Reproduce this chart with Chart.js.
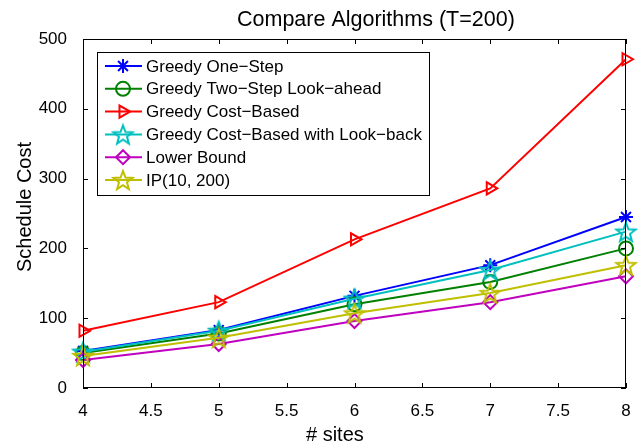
<!DOCTYPE html>
<html>
<head>
<meta charset="utf-8">
<script src="https://cdn.jsdelivr.net/npm/chart.js@4/dist/chart.umd.min.js"></script>
<style>
  html, body { margin: 0; padding: 0; background: #fff; }
  #wrap { width: 640px; height: 448px; }
</style>
</head>
<body>
<div id="wrap"><canvas id="c" width="640" height="448"></canvas></div>
<script>
// ── DATA ──────────────────────────────────────────────────────────────────────
const sites      = [4, 5, 6, 7, 8];
const oneStep    = [53, 83, 132, 176, 245];
const twoStep    = [50, 78, 120, 152, 200];
const costBased  = [82, 123, 213, 286, 471];
const lookBack   = [52, 82, 128, 169, 224];
const lowerBound = [40, 63, 96, 123, 160];
const ipBound    = [46, 72, 107, 136, 176];

const xTicks = [4, 4.5, 5, 5.5, 6, 6.5, 7, 7.5, 8];
const yTicks = [0, 100, 200, 300, 400, 500];

const FONT = "'Liberation Sans', Arial, Helvetica, sans-serif";

// pentagram marker (MATLAB 'p'), drawn once to a small canvas
function pentagram(color) {
  const s = 24, c = document.createElement('canvas');
  c.width = s; c.height = s;
  const g = c.getContext('2d'), R = 10, r = 4.2, cx = s / 2, cy = s / 2 + 1;
  g.beginPath();
  for (let i = 0; i < 10; i++) {
    const a = -Math.PI / 2 + i * Math.PI / 5, rr = i % 2 ? r : R;
    g.lineTo(cx + rr * Math.cos(a), cy + rr * Math.sin(a));
  }
  g.closePath();
  g.strokeStyle = color; g.lineWidth = 2; g.lineJoin = 'miter';
  g.stroke();
  return c;
}

const series = [
  { label: 'Greedy One\u2212Step',                      data: oneStep,    color: '#0000ff', style: 'star',     rot: 0 },
  { label: 'Greedy Two\u2212Step Look\u2212ahead',        data: twoStep,    color: '#008000', style: 'circle',   rot: 0 },
  { label: 'Greedy Cost\u2212Based',                     data: costBased,  color: '#ff0000', style: 'triangle', rot: 90 },
  { label: 'Greedy Cost\u2212Based with Look\u2212back',  data: lookBack,   color: '#00bfbf', style: pentagram('#00bfbf'), rot: 0 },
  { label: 'Lower Bound',                               data: lowerBound, color: '#bf00bf', style: 'rectRot',  rot: 0 },
  { label: 'IP(10, 200)',                               data: ipBound,    color: '#bfbf00', style: pentagram('#bfbf00'), rot: 0 },
];

const datasets = series.map((s, i) => ({
  label: s.label,
  data: s.data.map((v, k) => ({ x: sites[k], y: v })),
  borderColor: s.color,
  backgroundColor: 'rgba(0,0,0,0)',
  borderWidth: 2,
  pointStyle: s.style,
  pointRotation: s.rot,
  pointRadius: 7,
  pointBorderWidth: 2,
  pointBorderColor: s.color,
  pointBackgroundColor: 'rgba(0,0,0,0)',
  tension: 0,
  clip: false,
  order: series.length - i,   // later series on top, like MATLAB
}));

// ── FRAME, INWARD TICKS, TITLES, LEGEND ───────────────────────────────────────
const decor = {
  id: 'decor',
  afterDraw(chart) {
    const { ctx, chartArea: { left, right, top, bottom }, scales: { x, y } } = chart;
    ctx.save();
    ctx.strokeStyle = '#000'; ctx.lineWidth = 1;
    ctx.strokeRect(left + 0.5, top + 0.5, right - left - 1, bottom - top - 1);
    ctx.beginPath();
    xTicks.forEach(t => {
      const px = Math.round(x.getPixelForValue(t)) + 0.5;
      ctx.moveTo(px, bottom); ctx.lineTo(px, bottom - 5);
      ctx.moveTo(px, top);    ctx.lineTo(px, top + 5);
    });
    yTicks.forEach(t => {
      const py = Math.round(y.getPixelForValue(t)) + 0.5;
      ctx.moveTo(left, py);  ctx.lineTo(left + 5, py);
      ctx.moveTo(right, py); ctx.lineTo(right - 5, py);
    });
    ctx.stroke();

    // titles (the original sits a little off the axes centre)
    ctx.fillStyle = '#000';
    ctx.textAlign = 'left'; ctx.textBaseline = 'middle';
    ctx.font = `21.5px ${FONT}`;
    ctx.fillText('Compare Algorithms (T=200)', 237, 20);
    ctx.font = `20px ${FONT}`;
    ctx.fillText('# sites', 306, 435);
    ctx.save();
    ctx.textAlign = 'center';
    ctx.translate(25, 207);
    ctx.rotate(-Math.PI / 2);
    ctx.fillText('Schedule Cost', 0, 0);
    ctx.restore();

    // legend box
    const lx = 97, ly = 52, lw = 332, lh = 143, rowH = 22.8;
    ctx.fillStyle = '#fff';
    ctx.fillRect(lx, ly, lw, lh);
    ctx.strokeStyle = '#000'; ctx.lineWidth = 1;
    ctx.strokeRect(lx + 0.5, ly + 0.5, lw, lh);
    ctx.font = `17px ${FONT}`;
    ctx.textAlign = 'left';
    series.forEach((s, i) => {
      const ry = ly + 14 + i * rowH;
      ctx.strokeStyle = s.color; ctx.lineWidth = 2;
      ctx.beginPath(); ctx.moveTo(105, ry); ctx.lineTo(142, ry); ctx.stroke();
      ctx.fillStyle = 'rgba(0,0,0,0)';
      Chart.helpers.drawPoint(ctx, {
        pointStyle: s.style, rotation: s.rot, radius: 7, borderWidth: 2
      }, 123, ry);
      ctx.fillStyle = '#000';
      ctx.fillText(s.label, 146, ry + 1);
    });
    ctx.restore();
  }
};

new Chart(document.getElementById('c'), {
  type: 'line',
  data: { datasets },
  options: {
    responsive: false,
    animation: false,
    layout: { padding: { top: 39, right: 14, left: 0, bottom: 0 } },
    plugins: { legend: { display: false }, title: { display: false }, tooltip: { enabled: false } },
    scales: {
      x: {
        type: 'linear', min: 4, max: 8,
        afterBuildTicks: s => { s.ticks = xTicks.map(v => ({ value: v })); },
        afterFit: s => { s.height = 60; },
        grid: { display: false },
        border: { display: false },
        ticks: { color: '#000', font: { size: 17, family: FONT }, padding: 5, maxRotation: 0,
                 callback: v => String(v) }
      },
      y: {
        min: 0, max: 500,
        afterBuildTicks: s => { s.ticks = yTicks.map(v => ({ value: v })); },
        afterFit: s => { s.width = 83; },
        grid: { display: false },
        border: { display: false },
        ticks: { color: '#000', font: { size: 17, family: FONT }, padding: 8 }
      }
    }
  },
  plugins: [decor]
});
</script>
</body>
</html>
